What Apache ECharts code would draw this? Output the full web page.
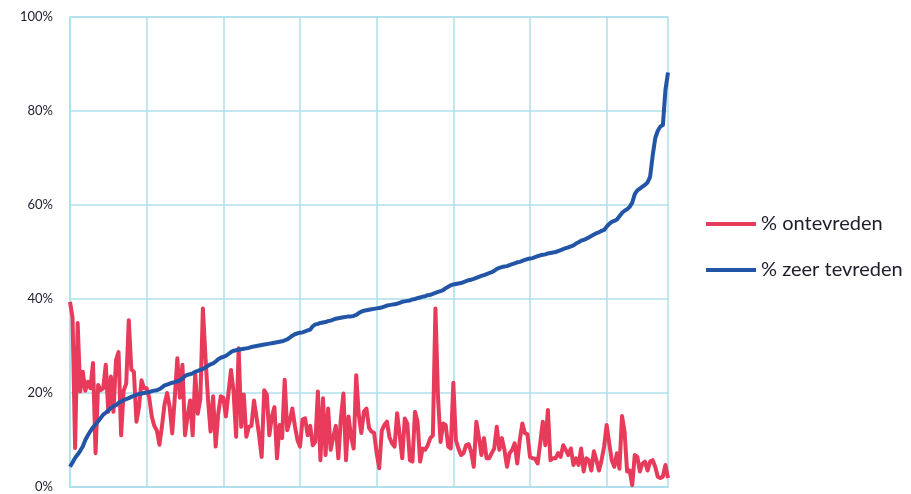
<!DOCTYPE html>
<html>
<head>
<meta charset="utf-8">
<script src="https://cdn.jsdelivr.net/npm/echarts@6/dist/echarts.min.js"></script>
<style>
html,body{margin:0;padding:0;background:#fff;}
#chart{width:911px;height:494px;}
</style>
</head>
<body>
<div id="chart"></div>
<script>
// % ontevreden (red), one value per ranked unit
const ontevreden = [
  39.4, 36, 8.3, 34.9, 20.3, 24.5, 20.5, 22.4, 21, 26.4,
  7.2, 21.7, 20.6, 21, 26, 16, 23.5, 16, 27, 28.7,
  11, 20.5, 22, 35.5, 25, 24.5, 13.9, 17, 22.7, 21,
  21, 19, 15, 13, 12, 9, 13, 17.6, 20, 17,
  11.4, 19, 27.4, 19, 26, 11, 15, 18.4, 11, 24.2,
  15.6, 18.7, 38, 27.7, 18.7, 11.8, 19.3, 8.6, 15.6, 19.3,
  19, 15, 20, 24.9, 20.3, 10.7, 29.5, 12.8, 19.7, 10.7,
  12.8, 13, 18.4, 14.8, 11, 6.4, 20.6, 19.7, 11, 15,
  17, 6.1, 13.2, 10.4, 22.8, 12.1, 14, 16.7, 13, 10,
  8.6, 14.4, 14.6, 11, 13, 8.9, 9.6, 20.3, 5.7, 18.9,
  6.8, 16.7, 7.9, 10.6, 13, 6.1, 14.6, 19.9, 5.7, 15,
  10.6, 8.2, 23.8, 15.3, 11.5, 16, 16.7, 12.6, 11.8, 11.5,
  7.2, 4, 12, 13.2, 13.9, 10.6, 9.3, 8.6, 15.7, 11,
  6.1, 14.6, 13.5, 5.7, 5.4, 16, 13.9, 5.4, 8.2, 7.9,
  8.9, 10.4, 11, 38, 19.2, 9.6, 13.5, 13.2, 8.6, 8.2,
  22.2, 10, 8.2, 6.8, 7.2, 8.9, 9.1, 7.4, 4.3, 13.9,
  10.6, 6.8, 10.4, 6.1, 6.1, 7.2, 8.2, 12.8, 7.9, 10.4,
  7.9, 4.3, 7.2, 7.9, 9.3, 5, 10, 13.5, 11.5, 11.2,
  6.4, 6.1, 6, 5, 9.3, 13.9, 8.9, 16.4, 5.7, 6.1,
  6.1, 7.2, 6.4, 8.9, 7.9, 6.8, 8.2, 4.7, 6.1, 4.7,
  8.2, 3.3, 6.1, 5.7, 3.5, 7.6, 5.7, 3.5, 5.7, 8.6,
  13.2, 9.3, 5.7, 4.3, 7.2, 3.9, 15.1, 11.8, 3.3, 3.5,
  0.4, 6.8, 6.4, 3.3, 5, 5.4, 3.5, 5.4, 5.7, 4.3,
  2.2, 1.9, 2.2, 4.7, 1.9
];

// % zeer tevreden (blue), sorted ascending
const zeerTevreden = [
  4.3, 5.2, 6.2, 6.9, 7.7, 8.6, 10, 11, 11.9, 12.7,
  13.3, 14, 14.7, 15.4, 15.8, 16.3, 16.8, 17.2, 17.4, 17.9,
  18.2, 18.5, 18.7, 18.9, 19.2, 19.4, 19.6, 19.8, 19.9, 20,
  20.1, 20.2, 20.4, 20.5, 20.6, 20.8, 21.2, 21.6, 21.8, 22,
  22.2, 22.3, 22.5, 22.7, 23.1, 23.6, 23.9, 24, 24.2, 24.5,
  24.7, 24.9, 25.1, 25.4, 25.8, 26.1, 26.3, 26.7, 27.2, 27.5,
  27.7, 27.9, 28.3, 28.7, 29, 29.1, 29.2, 29.3, 29.4, 29.5,
  29.6, 29.8, 29.9, 30, 30.1, 30.2, 30.3, 30.4, 30.5, 30.6,
  30.7, 30.8, 30.9, 31, 31.2, 31.4, 31.8, 32.2, 32.5, 32.7,
  32.8, 32.9, 33.1, 33.3, 33.5, 34.2, 34.6, 34.7, 34.9, 35,
  35.1, 35.3, 35.4, 35.6, 35.8, 35.9, 36, 36.1, 36.2, 36.3,
  36.3, 36.4, 36.6, 37, 37.3, 37.5, 37.6, 37.7, 37.8, 37.9,
  38, 38.1, 38.2, 38.4, 38.6, 38.7, 38.8, 38.9, 39, 39.2,
  39.4, 39.5, 39.6, 39.7, 39.9, 40, 40.2, 40.3, 40.5, 40.6,
  40.8, 40.9, 41.1, 41.3, 41.5, 41.7, 41.9, 42.3, 42.6, 42.9,
  43.1, 43.2, 43.3, 43.4, 43.6, 43.8, 44, 44.1, 44.3, 44.5,
  44.7, 44.9, 45.1, 45.3, 45.5, 45.7, 46, 46.4, 46.6, 46.8,
  46.9, 47, 47.2, 47.4, 47.6, 47.8, 47.9, 48.1, 48.3, 48.5,
  48.6, 48.7, 48.9, 49.1, 49.3, 49.4, 49.5, 49.7, 49.8, 49.9,
  50, 50.2, 50.4, 50.6, 50.8, 51, 51.2, 51.4, 51.8, 52.1,
  52.4, 52.6, 52.8, 53.1, 53.4, 53.7, 54, 54.2, 54.5, 54.7,
  55.4, 56, 56.4, 56.6, 56.9, 57.6, 58.3, 58.8, 59.1, 59.6,
  60.5, 62.3, 63.1, 63.5, 63.9, 64.3, 64.8, 66, 70.5, 74.2,
  75.8, 76.7, 77, 84.5, 88.2
];

// category labels (rank of each unit)
const categories = ontevreden.map((_, i) => String(i + 1));
const yTicks = [0, 20, 40, 60, 80, 100];
const seriesNames = ['% ontevreden', '% zeer tevreden'];

const gridColor = '#aedfeb';
const chart = echarts.init(document.getElementById('chart'), null, {renderer: 'canvas'});
chart.setOption({
  animation: false,
  backgroundColor: '#ffffff',
  textStyle: {fontFamily: 'Lato, "Noto Sans", sans-serif'},
  grid: {
    left: 70, right: 243, top: 17, bottom: 7,
    show: true, borderColor: gridColor, borderWidth: 1.5, backgroundColor: 'transparent'
  },
  legend: {
    orient: 'vertical',
    left: 701, top: 208,
    itemWidth: 50, itemHeight: 4, itemGap: 24,
    icon: 'rect',
    textStyle: {fontSize: 20, color: '#1d1d2b', lineHeight: 22, fontFamily: 'Lato, "Noto Sans", sans-serif'},
    data: seriesNames
  },
  xAxis: {
    type: 'category',
    data: categories,
    boundaryGap: false,
    axisLine: {show: true, lineStyle: {color: gridColor, width: 1.5}},
    axisTick: {show: false},
    axisLabel: {show: false},
    splitLine: {show: true, interval: 29, lineStyle: {color: gridColor, width: 1.5}}
  },
  yAxis: {
    type: 'value',
    min: yTicks[0], max: yTicks[yTicks.length - 1], interval: 20,
    axisLine: {show: false},
    axisTick: {show: false},
    axisLabel: {
      formatter: '{value}%', color: '#222233', fontSize: 13, margin: 17,
      fontFamily: 'Lato, "Noto Sans", sans-serif'
    },
    splitLine: {show: true, lineStyle: {color: gridColor, width: 1.5}}
  },
  series: [
    {
      name: seriesNames[0], type: 'line', data: ontevreden,
      showSymbol: false, symbol: 'none',
      lineStyle: {color: '#e83a5a', width: 4, join: 'round'},
      itemStyle: {color: '#e83a5a'}, z: 3
    },
    {
      name: seriesNames[1], type: 'line', data: zeerTevreden,
      showSymbol: false, symbol: 'none',
      lineStyle: {color: '#2355a6', width: 4, join: 'round'},
      itemStyle: {color: '#2355a6'}, z: 4
    }
  ]
});
</script>
</body>
</html>
